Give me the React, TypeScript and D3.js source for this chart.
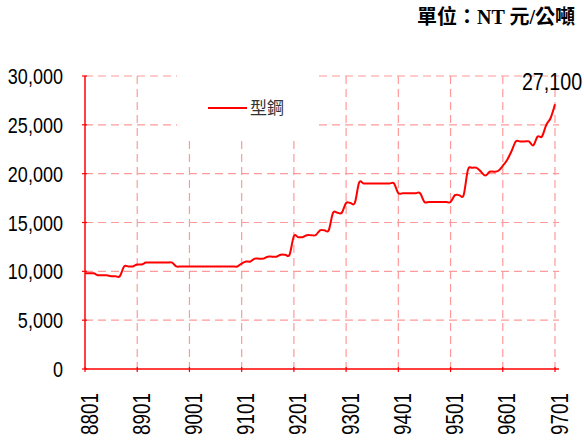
import React from "react";
import * as d3 from "d3";

// Monthly price of 型鋼 (NT$/ton), 8801 .. 9701
const values: number[] = [
  9800, 9800, 9800, 9600, 9600, 9600, 9500, 9500, 9500, 10500, 10500, 10500,
  10700, 10700, 10900, 10900, 10900, 10900, 10900, 10900, 10900, 10500, 10500, 10500,
  10500, 10500, 10500, 10500, 10500, 10500, 10500, 10500, 10500, 10500, 10500, 10500,
  10800, 11000, 11000, 11300, 11300, 11300, 11500, 11500, 11500, 11700, 11700, 11700,
  13600, 13500, 13500, 13700, 13700, 13700, 14200, 14200, 14200, 16000, 16000, 16000,
  17000, 17000, 17000, 19100, 19000, 19000, 19000, 19000, 19000, 19000, 19000, 19000,
  18000, 18000, 18000, 18000, 18000, 18000, 17100, 17100, 17100, 17100, 17100, 17100,
  17100, 17800, 17800, 17800, 20400, 20600, 20600, 20200, 19800, 20200, 20200, 20300,
  20800, 21400, 22300, 23300, 23300, 23300, 23300, 22900, 23800, 23800, 25000, 25700,
  27100,
];

const xTickLabels: string[] = ["8801", "8901", "9001", "9101", "9201", "9301", "9401", "9501", "9601", "9701"];
const xTickIndex: number[] = [0, 12, 24, 36, 48, 60, 72, 84, 96, 108];
const yTicks: number[] = [0, 5000, 10000, 15000, 20000, 25000, 30000];
const seriesName = "型鋼";
const unitLabel = "單位：NT 元/公噸";
const lastLabel = "27,100";

const W = 584;
const H = 441;
const left = 85;
const right = 555;
const top = 76;
const bottom = 369;

const RED = "#ff0000";
const GRID = "#ff9a9a";
const SANS = "'Liberation Sans', Arial, sans-serif";
const NARROW_SCALE = 0.82;

export default function App() {
  const x = d3.scaleLinear().domain([0, values.length - 1]).range([left, right]);
  const y = d3.scaleLinear().domain([0, 30000]).range([bottom, top]);
  const line = d3
    .line<number>()
    .x((_, i) => x(i))
    .y((d) => y(d))
    .curve(d3.curveCardinal.tension(0));
  const fmt = d3.format(",");
  const lastI = values.length - 1;

  return (
    <svg
      width={W}
      height={H}
      style={{ position: "absolute", left: 0, top: 0, background: "#fff" }}
    >
      <rect x={0} y={0} width={W} height={H} fill="#fff" />
      {/* horizontal grid */}
      {yTicks.filter((t) => t > 0).map((t) => (
        <line
          key={"h" + t}
          x1={left}
          x2={right + 4}
          y1={y(t)}
          y2={y(t)}
          stroke={GRID}
          strokeWidth={1.2}
          strokeDasharray="8,5"
        />
      ))}
      {/* vertical grid */}
      {xTickIndex.filter((i) => i > 0).map((i) => (
        <line
          key={"v" + i}
          x1={x(i)}
          x2={x(i)}
          y1={top}
          y2={bottom}
          stroke={GRID}
          strokeWidth={1.2}
          strokeDasharray="8,5"
        />
      ))}
      {/* legend box (white, hides grid) */}
      <rect x={177} y={66} width={137} height={71} fill="#fff" />
      <line x1={208} x2={247} y1={108} y2={108} stroke={RED} strokeWidth={2} />
      <text
        x={250}
        y={114}
        fontSize={17}
        fill="#333"
        fontFamily="'Noto Sans CJK TC', 'Noto Sans CJK SC', sans-serif"
      >
        {seriesName}
      </text>
      {/* axes */}
      <line x1={left} x2={left} y1={top} y2={bottom} stroke={RED} strokeWidth={1.5} />
      <line x1={left} x2={right + 4} y1={bottom} y2={bottom} stroke={RED} strokeWidth={1.5} />
      {yTicks.map((t) => (
        <line key={"yt" + t} x1={left - 3} x2={left + 2} y1={y(t)} y2={y(t)} stroke={RED} strokeWidth={1.2} />
      ))}
      {xTickIndex.map((i) => (
        <line key={"xt" + i} x1={x(i)} x2={x(i)} y1={bottom - 2} y2={bottom + 3} stroke={RED} strokeWidth={1.2} />
      ))}
      {/* y labels */}
      {yTicks.map((t) => (
        <text
          key={"yl" + t}
          transform={`translate(63,${y(t) + 8}) scale(${NARROW_SCALE},1)`}
          textAnchor="end"
          fontSize={22}
          fontFamily={SANS}
          fill="#000"
        >
          {fmt(t)}
        </text>
      ))}
      {/* x labels */}
      {xTickIndex.map((i, k) => (
        <text
          key={"xl" + i}
          transform={`translate(${x(i) + 12.5},393) rotate(-90) scale(${NARROW_SCALE},1)`}
          textAnchor="end"
          fontSize={23}
          fontFamily={SANS}
          fill="#000"
        >
          {xTickLabels[k]}
        </text>
      ))}
      {/* series */}
      <path d={line(values) || ""} fill="none" stroke={RED} strokeWidth={2} strokeLinejoin="round" />
      <text
        transform={`translate(${x(lastI) - 3},${y(values[lastI]) - 14}) scale(${NARROW_SCALE},1)`}
        textAnchor="middle"
        fontSize={24}
        fontFamily={SANS}
        fill="#000"
      >
        {lastLabel}
      </text>
      {/* unit */}
      <text
        x={575}
        y={24}
        textAnchor="end"
        fontSize={20}
        fontWeight={600}
        fontFamily="'Liberation Serif', 'Noto Sans CJK TC', serif"
        fill="#000"
      >
        {unitLabel}
      </text>
    </svg>
  );
}
